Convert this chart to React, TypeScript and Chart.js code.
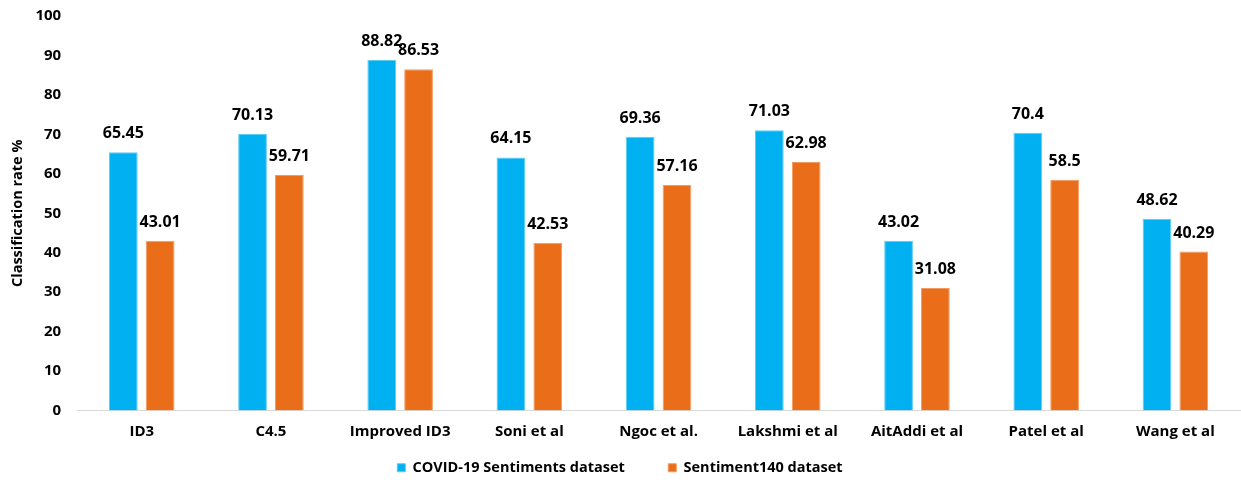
import React, { useEffect, useRef } from "react";
import { Chart, registerables } from "chart.js";

Chart.register(...registerables);

const categories = [
  "ID3",
  "C4.5",
  "Improved ID3",
  "Soni et al",
  "Ngoc et al.",
  "Lakshmi et al",
  "AitAddi et al",
  "Patel et al",
  "Wang et al",
];
const covidValues = [65.45, 70.13, 88.82, 64.15, 69.36, 71.03, 43.02, 70.4, 48.62];
const sentiment140Values = [43.01, 59.71, 86.53, 42.53, 57.16, 62.98, 31.08, 58.5, 40.29];
const seriesNames = ["COVID-19 Sentiments dataset", "Sentiment140 dataset"];
const yTicks = [0, 10, 20, 30, 40, 50, 60, 70, 80, 90, 100];

const FONT = "'Open Sans', Lato, sans-serif";
const BLUE = "#00B0F0";
const ORANGE = "#EA6E19";

// Writes each bar's value just above its top.
const valueLabels = {
  id: "valueLabels",
  afterDatasetsDraw(chart: any) {
    const { ctx } = chart;
    ctx.save();
    ctx.font = `bold 16px ${FONT}`;
    ctx.fillStyle = "#000";
    ctx.textAlign = "center";
    ctx.textBaseline = "alphabetic";
    chart.data.datasets.forEach((ds: any, di: number) => {
      const meta = chart.getDatasetMeta(di);
      meta.data.forEach((bar: any, i: number) => {
        ctx.fillText(String(ds.data[i]), bar.x, bar.y - 14);
      });
    });
    ctx.restore();
  },
};

export default function App() {
  const canvasRef = useRef<HTMLCanvasElement | null>(null);

  useEffect(() => {
    if (!canvasRef.current) return;
    const chart = new Chart(canvasRef.current, {
      type: "bar",
      data: {
        labels: categories,
        datasets: [
          {
            label: seriesNames[0],
            data: covidValues,
            backgroundColor: BLUE,
            borderColor: "#5CCBF4",
            borderWidth: 1,
            categoryPercentage: 0.57,
            barPercentage: 0.78,
          },
          {
            label: seriesNames[1],
            data: sentiment140Values,
            backgroundColor: ORANGE,
            borderColor: "#F39A60",
            borderWidth: 1,
            categoryPercentage: 0.57,
            barPercentage: 0.78,
          },
        ],
      },
      options: {
        animation: false,
        responsive: false,
        maintainAspectRatio: false,
        layout: { padding: { top: 0, right: 1, left: 0, bottom: -5 } },
        plugins: {
          legend: {
            position: "bottom",
            labels: {
              boxWidth: 8,
              boxHeight: 8,
              padding: 0,
              color: "#000",
              font: { family: FONT, size: 14.5, weight: "bold" },
              generateLabels: (chart: any) => {
                const items = Chart.defaults.plugins.legend.labels.generateLabels(chart);
                // wider spacing between the two entries
                items[0].text = items[0].text + "\u2002\u2002\u2002\u2002\u2002\u2002";
                return items;
              },
            },
          },
          tooltip: { enabled: false },
        },
        scales: {
          x: {
            grid: { display: false, drawTicks: false },
            border: { display: true, color: "#D9D9D9", width: 1 },
            ticks: {
              color: "#000",
              padding: 12,
              font: { family: FONT, size: 15, weight: "bold" },
            },
            afterFit: (axis: any) => {
              axis.height += 8;
            },
          },
          y: {
            min: 0,
            max: 100,
            afterBuildTicks: (axis: any) => {
              axis.ticks = yTicks.map((v) => ({ value: v }));
            },
            grid: { display: false, drawTicks: false },
            border: { display: false },
            ticks: {
              color: "#000",
              padding: 16,
              font: { family: FONT, size: 15, weight: "bold" },
            },
            title: {
              display: true,
              text: "Classification rate %",
              color: "#000",
              padding: { top: 9, bottom: -7 },
              font: { family: FONT, size: 14.5, weight: "bold" },
            },
          },
        },
      },
      plugins: [valueLabels],
    });
    return () => chart.destroy();
  }, []);

  return (
    <div style={{ position: "absolute", left: 0, top: -9, width: 1241, height: 489, background: "#fff" }}>
      <canvas ref={canvasRef} width={1241} height={489} />
    </div>
  );
}
